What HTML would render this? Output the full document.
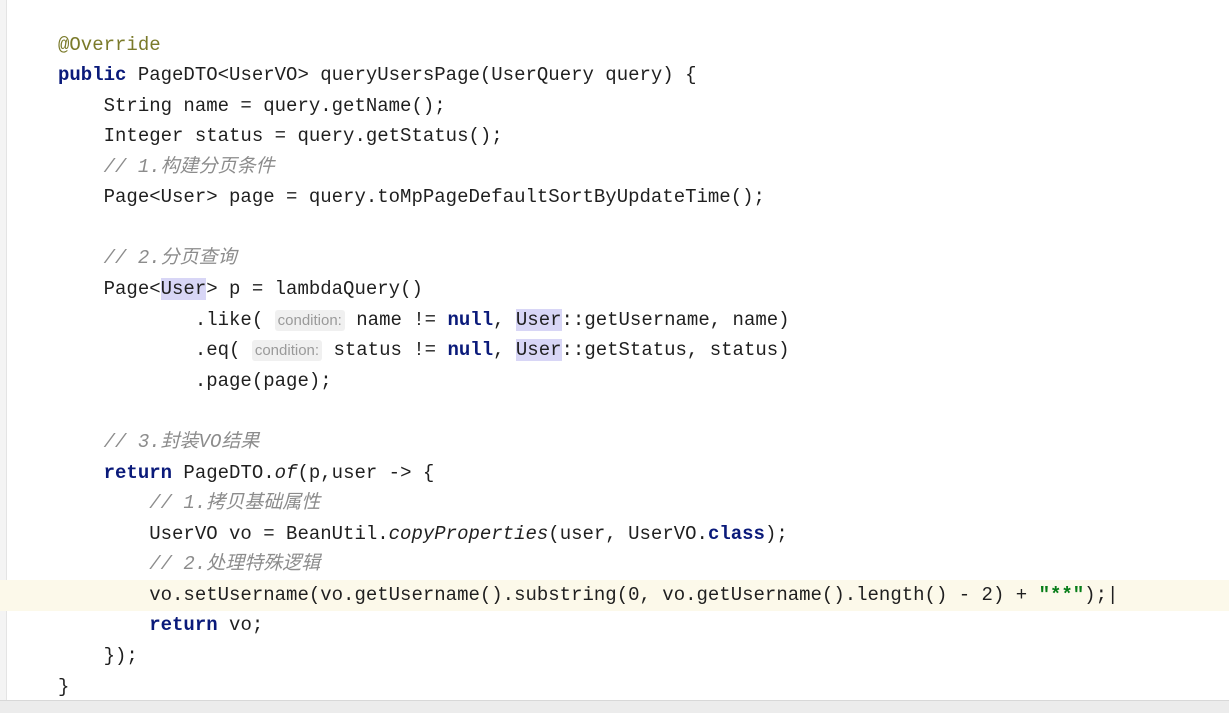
<!DOCTYPE html>
<html><head><meta charset="utf-8"><style>
body{margin:0;width:1229px;height:712px;background:#fff;position:relative;overflow:hidden;font-family:"Liberation Mono","Noto Sans CJK SC",monospace;font-size:19px;color:#1f1f1f}
.l{position:absolute;height:30px;line-height:30px;white-space:pre;left:58px}
.k{color:#0a1a7a;font-weight:bold}
.c{color:#8c8c8c;font-style:italic}
.a{color:#7a7a2a}
.s{color:#067d17;font-weight:bold}
.i{font-style:italic}
.u{background:#d8d6f6}
.h{font-family:"Liberation Sans",sans-serif;font-size:15px;color:#9a9a9a;background:#f0f0f0;padding:2px 3px;border-radius:3px}
</style></head><body>
<div style="position:absolute;left:0;top:0;width:6px;height:700px;background:#f4f4f4;border-right:1px solid #e4e4e4"></div>
<div style="position:absolute;left:0;top:580px;width:1229px;height:31px;background:#fcf9ea"></div>
<div style="position:absolute;left:0;top:700px;width:1229px;height:12px;background:#ececec;border-top:1px solid #d8d8d8"></div>
<div class="l a" style="top:30px">@Override</div>
<div class="l" style="top:60px"><span class="k">public</span> PageDTO&lt;UserVO&gt; queryUsersPage(UserQuery query) {</div>
<div class="l" style="top:91px">    String name = query.getName();</div>
<div class="l" style="top:121px">    Integer status = query.getStatus();</div>
<div class="l c" style="top:152px">    // 1.构建分页条件</div>
<div class="l" style="top:182px">    Page&lt;User&gt; page = query.toMpPageDefaultSortByUpdateTime();</div>
<div class="l c" style="top:243px">    // 2.分页查询</div>
<div class="l" style="top:274px">    Page&lt;<span class="u">User</span>&gt; p = lambdaQuery()</div>
<div class="l" style="top:305px">            .like( <span class="h">condition:</span> name != <span class="k">null</span>, <span class="u">User</span>::getUsername, name)</div>
<div class="l" style="top:335px">            .eq( <span class="h">condition:</span> status != <span class="k">null</span>, <span class="u">User</span>::getStatus, status)</div>
<div class="l" style="top:366px">            .page(page);</div>
<div class="l c" style="top:427px">    // 3.封装VO结果</div>
<div class="l" style="top:458px">    <span class="k">return</span> PageDTO.<span class="i">of</span>(p,user -&gt; {</div>
<div class="l c" style="top:488px">        // 1.拷贝基础属性</div>
<div class="l" style="top:519px">        UserVO vo = BeanUtil.<span class="i">copyProperties</span>(user, UserVO.<span class="k">class</span>);</div>
<div class="l c" style="top:549px">        // 2.处理特殊逻辑</div>
<div class="l" style="top:580px">        vo.setUsername(vo.getUsername().substring(0, vo.getUsername().length() - 2) + <span class="s">"**"</span>);|</div>
<div class="l" style="top:610px">        <span class="k">return</span> vo;</div>
<div class="l" style="top:641px">    });</div>
<div class="l" style="top:672px">}</div>
</body></html>
